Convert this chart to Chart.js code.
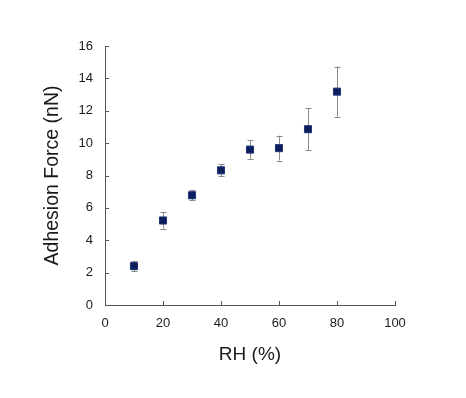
<!DOCTYPE html>
<html>
<head>
<meta charset="utf-8">
<script src="https://cdn.jsdelivr.net/npm/chart.js@4/dist/chart.umd.min.js"></script>
<style>
html,body{margin:0;padding:0;background:#fff;}
#wrap{width:466px;height:398px;}
</style>
</head>
<body>
<div id="wrap"><canvas id="c" width="466" height="398"></canvas></div>
<script>
const rh = [10, 20, 30, 40, 50, 60, 70, 80];
const force = [2.4, 5.22, 6.78, 8.32, 9.6, 9.69, 10.86, 13.18];
const errors = [0.33, 0.5, 0.3, 0.36, 0.57, 0.77, 1.28, 1.55];
const xTicks = [0, 20, 40, 60, 80, 100];
const yTicks = [0, 2, 4, 6, 8, 10, 12, 14, 16];

const errorBars = {
  id: 'errorBars',
  beforeDatasetsDraw(chart) {
    const ctx = chart.ctx, xs = chart.scales.x, ys = chart.scales.y;
    ctx.save();
    ctx.strokeStyle = '#8c8c8c';
    ctx.lineWidth = 1;
    rh.forEach((v, i) => {
      const px = Math.round(xs.getPixelForValue(v)) + 0.5;
      const top = ys.getPixelForValue(force[i] + errors[i]);
      const bot = ys.getPixelForValue(force[i] - errors[i]);
      ctx.beginPath();
      ctx.moveTo(px, top); ctx.lineTo(px, bot);
      ctx.moveTo(px - 3, Math.round(top) + 0.5); ctx.lineTo(px + 3, Math.round(top) + 0.5);
      ctx.moveTo(px - 3, Math.round(bot) + 0.5); ctx.lineTo(px + 3, Math.round(bot) + 0.5);
      ctx.stroke();
    });
    ctx.restore();
  }
};

const innerTicks = {
  id: 'innerTicks',
  afterDraw(chart) {
    const ctx = chart.ctx, xs = chart.scales.x, ys = chart.scales.y;
    const a = chart.chartArea;
    ctx.save();
    ctx.strokeStyle = '#555';
    ctx.lineWidth = 1;
    ctx.beginPath();
    xTicks.forEach(v => {
      const px = Math.round(xs.getPixelForValue(v)) + 0.5;
      ctx.moveTo(px, a.bottom); ctx.lineTo(px, a.bottom - 4);
    });
    yTicks.forEach(v => {
      const py = Math.round(ys.getPixelForValue(v)) + 0.5;
      ctx.moveTo(a.left, py); ctx.lineTo(a.left + 4, py);
    });
    ctx.stroke();
    ctx.restore();
  }
};

new Chart(document.getElementById('c'), {
  type: 'scatter',
  data: {
    datasets: [{
      data: rh.map((x, i) => ({x: x, y: force[i]})),
      pointStyle: 'rect',
      pointRadius: 5,
      backgroundColor: '#0a1f5c',
      borderColor: '#1f3475',
      borderWidth: 1
    }]
  },
  options: {
    responsive: false,
    animation: false,
    events: [],
    layout: { padding: { left: 37, right: 71, top: 46, bottom: 28 } },
    plugins: { legend: { display: false }, tooltip: { enabled: false } },
    scales: {
      x: {
        type: 'linear', min: 0, max: 100,
        afterBuildTicks(s) { s.ticks = xTicks.map(v => ({value: v})); },
        afterFit(s) { s.height = 65; },
        grid: { display: false, drawTicks: false },
        border: { display: true, color: '#555', width: 1 },
        ticks: { padding: 11, color: '#1a1a1a', font: { family: 'Liberation Sans, Arial', size: 13 }, maxRotation: 0 },
        title: { display: true, text: 'RH (%)', color: '#1a1a1a', font: { family: 'Liberation Sans, Arial', size: 19 }, padding: { top: 4, bottom: 4 } }
      },
      y: {
        type: 'linear', min: 0, max: 16,
        afterBuildTicks(s) { s.ticks = yTicks.map(v => ({value: v})); },
        afterFit(s) { s.width = 68; },
        grid: { display: false, drawTicks: false },
        border: { display: true, color: '#555', width: 1 },
        ticks: { padding: 12, color: '#1a1a1a', font: { family: 'Liberation Sans, Arial', size: 13 } },
        title: { display: true, text: 'Adhesion Force (nN)', color: '#1a1a1a', font: { family: 'Liberation Sans, Arial', size: 19.5 }, padding: { top: 4, bottom: 4 } }
      }
    }
  },
  plugins: [errorBars, innerTicks]
});
</script>
</body>
</html>
